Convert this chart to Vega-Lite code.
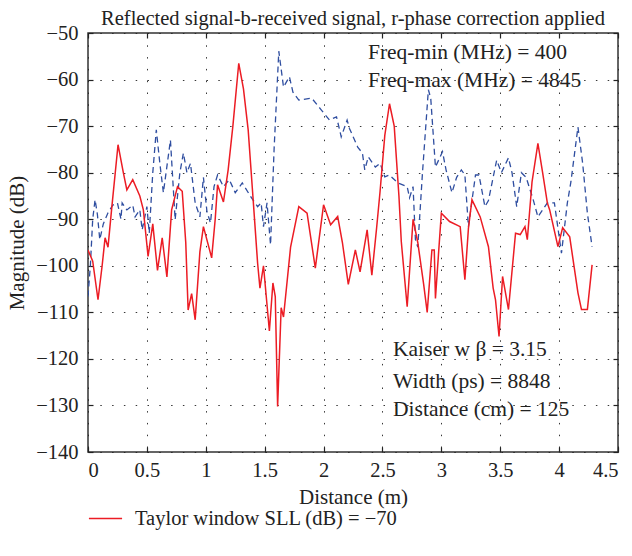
{
  "$schema": "https://vega.github.io/schema/vega-lite/v6.json",
  "width": 530,
  "height": 419,
  "autosize": {"type": "none"},
  "padding": {"left": 88, "top": 33, "right": 14, "bottom": 104},
  "background": "white",
  "title": {"text": "Reflected signal-b-received signal, r-phase correction applied", "font": "Liberation Serif", "fontSize": 20.5, "fontWeight": "normal", "color": "#222", "anchor": "middle", "offset": 0, "dy": 6},
  "config": {
    "view": {"stroke": "#333", "strokeWidth": 1.5},
    "font": "Liberation Serif",
    "axis": {
      "labelFont": "Liberation Serif", "labelFontSize": 20.5, "labelColor": "#222",
      "titleFont": "Liberation Serif", "titleFontSize": 21, "titleFontWeight": "normal", "titleColor": "#222",
      "domain": false, "tickColor": "#222", "tickSize": -5, "tickWidth": 1.2,
      "gridColor": "#222", "gridDash": [1.5, 10.3], "gridWidth": 1, "gridOpacity": 0.9
    },
    "legend": {"labelFont": "Liberation Serif", "labelFontSize": 20.5, "labelColor": "#222", "labelLimit": 0}
  },
  "datasets": {
    "red": [
      {"x": 0.00, "y": -96.6}, {"x": 0.04, "y": -99}, {"x": 0.085, "y": -107.3}, {"x": 0.12, "y": -100},
      {"x": 0.145, "y": -94}, {"x": 0.17, "y": -96}, {"x": 0.2, "y": -88}, {"x": 0.255, "y": -74},
      {"x": 0.3, "y": -80}, {"x": 0.33, "y": -83.7}, {"x": 0.38, "y": -81.5}, {"x": 0.44, "y": -85},
      {"x": 0.47, "y": -88}, {"x": 0.51, "y": -98}, {"x": 0.55, "y": -91}, {"x": 0.59, "y": -101},
      {"x": 0.63, "y": -94}, {"x": 0.67, "y": -102.4}, {"x": 0.71, "y": -88}, {"x": 0.76, "y": -83},
      {"x": 0.80, "y": -84}, {"x": 0.83, "y": -95}, {"x": 0.85, "y": -109.5}, {"x": 0.88, "y": -106},
      {"x": 0.91, "y": -111.6}, {"x": 0.95, "y": -97}, {"x": 0.98, "y": -91.6}, {"x": 1.05, "y": -98.3},
      {"x": 1.08, "y": -90}, {"x": 1.10, "y": -82.6}, {"x": 1.15, "y": -86.3}, {"x": 1.19, "y": -79.4},
      {"x": 1.23, "y": -70}, {"x": 1.28, "y": -56.5}, {"x": 1.32, "y": -62}, {"x": 1.36, "y": -70.8},
      {"x": 1.40, "y": -85}, {"x": 1.44, "y": -99.4}, {"x": 1.46, "y": -104.8}, {"x": 1.49, "y": -100},
      {"x": 1.54, "y": -114}, {"x": 1.57, "y": -103.7}, {"x": 1.59, "y": -106.6}, {"x": 1.61, "y": -130.2},
      {"x": 1.64, "y": -109}, {"x": 1.66, "y": -111}, {"x": 1.72, "y": -96}, {"x": 1.79, "y": -87.3},
      {"x": 1.86, "y": -88.7}, {"x": 1.93, "y": -100.5}, {"x": 2.00, "y": -86.9}, {"x": 2.06, "y": -91.2},
      {"x": 2.12, "y": -89.4}, {"x": 2.16, "y": -95}, {"x": 2.21, "y": -104}, {"x": 2.27, "y": -96.6},
      {"x": 2.31, "y": -101.3}, {"x": 2.37, "y": -92.3}, {"x": 2.41, "y": -102}, {"x": 2.45, "y": -92},
      {"x": 2.48, "y": -84}, {"x": 2.52, "y": -72}, {"x": 2.56, "y": -65.2}, {"x": 2.60, "y": -70},
      {"x": 2.64, "y": -85}, {"x": 2.66, "y": -94.8}, {"x": 2.71, "y": -108.8}, {"x": 2.76, "y": -90},
      {"x": 2.80, "y": -95}, {"x": 2.85, "y": -104}, {"x": 2.88, "y": -110}, {"x": 2.92, "y": -96.6},
      {"x": 2.94, "y": -96.6}, {"x": 2.95, "y": -107}, {"x": 3.00, "y": -88.7}, {"x": 3.07, "y": -90.5},
      {"x": 3.16, "y": -91.6}, {"x": 3.20, "y": -103}, {"x": 3.23, "y": -92}, {"x": 3.26, "y": -85.8},
      {"x": 3.33, "y": -89.5}, {"x": 3.40, "y": -95.9}, {"x": 3.44, "y": -104.8}, {"x": 3.46, "y": -107.3},
      {"x": 3.49, "y": -115.2}, {"x": 3.52, "y": -102.3}, {"x": 3.57, "y": -109.4}, {"x": 3.63, "y": -93},
      {"x": 3.67, "y": -93.3}, {"x": 3.71, "y": -91.6}, {"x": 3.73, "y": -94.4}, {"x": 3.77, "y": -82},
      {"x": 3.82, "y": -73.7}, {"x": 3.86, "y": -80}, {"x": 3.90, "y": -86.5}, {"x": 3.92, "y": -88},
      {"x": 3.99, "y": -95.9}, {"x": 4.03, "y": -91.8}, {"x": 4.09, "y": -93.8}, {"x": 4.16, "y": -105.8},
      {"x": 4.19, "y": -109.4}, {"x": 4.24, "y": -109.4}, {"x": 4.28, "y": -99.8}
    ],
    "blue": [
      {"x": 0.00, "y": -106.6}, {"x": 0.02, "y": -100}, {"x": 0.04, "y": -90}, {"x": 0.06, "y": -85.8},
      {"x": 0.08, "y": -89}, {"x": 0.10, "y": -94.4}, {"x": 0.13, "y": -91}, {"x": 0.17, "y": -88.6},
      {"x": 0.21, "y": -87}, {"x": 0.25, "y": -86.5}, {"x": 0.28, "y": -90}, {"x": 0.29, "y": -86.5},
      {"x": 0.33, "y": -88}, {"x": 0.38, "y": -87}, {"x": 0.40, "y": -89.5}, {"x": 0.44, "y": -88},
      {"x": 0.46, "y": -92.3}, {"x": 0.50, "y": -87.3}, {"x": 0.52, "y": -93}, {"x": 0.55, "y": -80},
      {"x": 0.58, "y": -70.8}, {"x": 0.61, "y": -78}, {"x": 0.64, "y": -84.3}, {"x": 0.70, "y": -73},
      {"x": 0.74, "y": -90.1}, {"x": 0.78, "y": -80}, {"x": 0.81, "y": -75.8}, {"x": 0.84, "y": -80},
      {"x": 0.87, "y": -78}, {"x": 0.91, "y": -86.5}, {"x": 0.95, "y": -89.5}, {"x": 0.98, "y": -81},
      {"x": 1.01, "y": -88.4}, {"x": 1.04, "y": -90.8}, {"x": 1.07, "y": -83}, {"x": 1.10, "y": -80.5},
      {"x": 1.15, "y": -83}, {"x": 1.20, "y": -81.5}, {"x": 1.25, "y": -84.3}, {"x": 1.31, "y": -82.2},
      {"x": 1.38, "y": -85.1}, {"x": 1.44, "y": -87.3}, {"x": 1.47, "y": -86.5}, {"x": 1.49, "y": -91.6},
      {"x": 1.52, "y": -86.5}, {"x": 1.55, "y": -95.5}, {"x": 1.58, "y": -75}, {"x": 1.62, "y": -53.9},
      {"x": 1.66, "y": -61.6}, {"x": 1.71, "y": -59.4}, {"x": 1.74, "y": -62.7}, {"x": 1.79, "y": -64.4},
      {"x": 1.90, "y": -64}, {"x": 1.98, "y": -66.5}, {"x": 2.05, "y": -68.7}, {"x": 2.11, "y": -68},
      {"x": 2.15, "y": -72.3}, {"x": 2.20, "y": -68.7}, {"x": 2.22, "y": -70.5}, {"x": 2.29, "y": -74.5},
      {"x": 2.33, "y": -75.8}, {"x": 2.35, "y": -79.4}, {"x": 2.38, "y": -76.6}, {"x": 2.44, "y": -78.8},
      {"x": 2.48, "y": -78}, {"x": 2.52, "y": -80.9}, {"x": 2.56, "y": -80.5}, {"x": 2.63, "y": -82.2},
      {"x": 2.71, "y": -83}, {"x": 2.73, "y": -85.4}, {"x": 2.76, "y": -83}, {"x": 2.78, "y": -94.4},
      {"x": 2.80, "y": -96}, {"x": 2.84, "y": -80}, {"x": 2.89, "y": -62.2}, {"x": 2.91, "y": -64},
      {"x": 2.95, "y": -78.8}, {"x": 3.01, "y": -75.5}, {"x": 3.04, "y": -79.4}, {"x": 3.09, "y": -84.3},
      {"x": 3.13, "y": -81}, {"x": 3.17, "y": -79.4}, {"x": 3.20, "y": -80.5}, {"x": 3.23, "y": -91.6},
      {"x": 3.29, "y": -80.5}, {"x": 3.32, "y": -80.5}, {"x": 3.37, "y": -87.3}, {"x": 3.40, "y": -86},
      {"x": 3.44, "y": -81}, {"x": 3.47, "y": -77.3}, {"x": 3.51, "y": -80}, {"x": 3.57, "y": -76.8},
      {"x": 3.60, "y": -80}, {"x": 3.64, "y": -87.3}, {"x": 3.68, "y": -80}, {"x": 3.72, "y": -81},
      {"x": 3.78, "y": -85.8}, {"x": 3.82, "y": -89.5}, {"x": 3.90, "y": -86.5}, {"x": 3.96, "y": -86.5},
      {"x": 4.02, "y": -97.3}, {"x": 4.07, "y": -86.5}, {"x": 4.10, "y": -82}, {"x": 4.16, "y": -70.2},
      {"x": 4.20, "y": -78}, {"x": 4.24, "y": -88.7}, {"x": 4.28, "y": -95.9}
    ],
    "notes": [
      {"x": 2.377, "y": -54.3, "t": "Freq-min (MHz) = 400"},
      {"x": 2.377, "y": -60.3, "t": "Freq-max (MHz) = 4845"},
      {"x": 2.59, "y": -118.1, "t": "Kaiser w β = 3.15"},
      {"x": 2.59, "y": -124.9, "t": "Width (ps) = 8848"},
      {"x": 2.59, "y": -131.0, "t": "Distance (cm) = 125"}
    ]
  },
  "layer": [
    {
      "data": {"name": "blue"},
      "mark": {"type": "line", "color": "#2f4ea0", "strokeWidth": 1.3, "strokeDash": [6, 4], "clip": true},
      "encoding": {
        "x": {"field": "x", "type": "quantitative", "scale": {"domain": [0, 4.5], "nice": false, "zero": false},
              "axis": {"title": "Distance (m)", "format": ".1~f", "values": [0, 0.5, 1, 1.5, 2, 2.5, 3, 3.5, 4, 4.5], "grid": true, "labelPadding": 13, "titlePadding": 6}},
        "y": {"field": "y", "type": "quantitative", "scale": {"domain": [-140, -50], "nice": false, "zero": false},
              "axis": {"title": "Magnitude (dB)", "format": "d", "values": [-140, -130, -120, -110, -100, -90, -80, -70, -60, -50], "grid": true, "labelPadding": 15, "titlePadding": 8}}
      }
    },
    {
      "data": {"name": "red"},
      "mark": {"type": "line", "strokeWidth": 1.5, "clip": true},
      "encoding": {
        "x": {"field": "x", "type": "quantitative", "axis": null},
        "y": {"field": "y", "type": "quantitative", "axis": null},
        "color": {"datum": "Taylor window SLL (dB) = −70", "type": "nominal",
                  "scale": {"range": ["#ec1c24"]},
                  "legend": {"title": null, "orient": "none", "legendX": 0, "legendY": 468, "symbolType": "stroke", "symbolSize": 1100, "symbolStrokeWidth": 1.4, "labelOffset": 12}}
      }
    },
    {
      "data": {"name": "notes"},
      "mark": {"type": "text", "align": "left", "baseline": "middle", "font": "Liberation Serif", "fontSize": 21.5, "color": "#222"},
      "encoding": {
        "x": {"field": "x", "type": "quantitative", "axis": {"orient": "top", "labels": false, "title": null, "grid": false, "values": [0, 0.5, 1, 1.5, 2, 2.5, 3, 3.5, 4, 4.5]}},
        "y": {"field": "y", "type": "quantitative", "axis": {"orient": "right", "labels": false, "title": null, "grid": false, "values": [-140, -130, -120, -110, -100, -90, -80, -70, -60, -50]}},
        "text": {"field": "t"}
      }
    }
  ],
  "resolve": {"axis": {"x": "independent", "y": "independent"}}
}
